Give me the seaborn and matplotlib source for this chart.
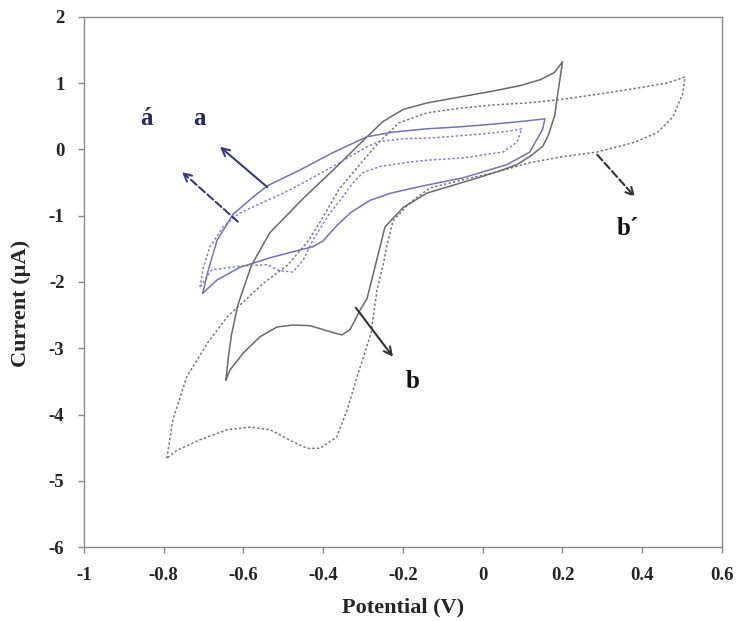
import numpy as np
import pandas as pd
import seaborn as sns
import matplotlib
matplotlib.use("Agg")
import matplotlib.pyplot as plt

# curve a (blue solid)
a_x = [-0.702, -0.69, -0.666, -0.626, -0.58, -0.54, -0.458, -0.376, -0.29, -0.225, -0.14, -0.057, 0.026, 0.111, 0.156,
       0.15, 0.118, 0.061, -0.05, -0.157, -0.23, -0.283, -0.33, -0.366, -0.40, -0.426, -0.46, -0.53, -0.609, -0.666, -0.702]
a_y = [-2.17, -1.86, -1.37, -0.98, -0.74, -0.55, -0.31, -0.05, 0.19, 0.26, 0.31, 0.34, 0.38, 0.43, 0.46,
       0.30, -0.04, -0.23, -0.43, -0.56, -0.66, -0.77, -0.95, -1.15, -1.38, -1.47, -1.52, -1.63, -1.78, -1.97, -2.17]

# curve á (blue dotted)
a2_x = [-0.709, -0.70, -0.684, -0.651, -0.609, -0.566, -0.50, -0.458, -0.376, -0.29, -0.258, -0.2, -0.132, -0.007, 0.06, 0.098,
        0.086, 0.051, -0.05, -0.132, -0.182, -0.258, -0.30, -0.325, -0.355, -0.383, -0.426, -0.45, -0.476, -0.51, -0.54,
        -0.609, -0.68, -0.709]
a2_y = [-2.08, -1.77, -1.47, -1.17, -0.96, -0.84, -0.66, -0.53, -0.26, 0.04, 0.12, 0.16, 0.17, 0.23, 0.27, 0.31,
        0.11, -0.04, -0.13, -0.16, -0.19, -0.26, -0.35, -0.5, -0.75, -0.96, -1.37, -1.67, -1.85, -1.83, -1.74,
        -1.76, -1.82, -2.08]

# curve b (black solid)
b_x = [-0.644, -0.637, -0.63, -0.614, -0.58, -0.534, -0.45, -0.366, -0.29, -0.25, -0.2, -0.14, -0.057, 0.026, 0.093,
       0.144, 0.18, 0.2,
       0.186, 0.181, 0.165, 0.151, 0.12, 0.086, 0.04, -0.007, -0.09, -0.14, -0.2, -0.245, -0.27, -0.29, -0.31, -0.318,
       -0.333, -0.353, -0.383, -0.433, -0.476, -0.516, -0.559, -0.60, -0.634, -0.644]
b_y = [-3.48, -3.1, -2.8, -2.35, -1.75, -1.26, -0.74, -0.26, 0.19, 0.42, 0.6, 0.70, 0.79, 0.88, 0.96,
       1.05, 1.16, 1.32,
       0.75, 0.52, 0.22, 0.05, -0.1, -0.23, -0.33, -0.42, -0.57, -0.66, -0.88, -1.17, -1.77, -2.25, -2.45, -2.55,
       -2.72, -2.80, -2.75, -2.66, -2.65, -2.68, -2.83, -3.07, -3.33, -3.48]

# curve b´ (black dotted)
b2_x = [-0.792, -0.777, -0.742, -0.69, -0.641, -0.60, -0.55, -0.49, -0.44, -0.408, -0.36, -0.325, -0.29, -0.258, -0.21,
        -0.14, -0.057, 0.026, 0.111, 0.194, 0.31, 0.394, 0.462, 0.507,
        0.502, 0.477, 0.437, 0.377, 0.287, 0.201, 0.118, 0.036, -0.05, -0.132, -0.182, -0.225, -0.24, -0.25, -0.265,
        -0.28, -0.315, -0.34, -0.366, -0.408, -0.44, -0.483, -0.533, -0.584, -0.641, -0.709, -0.767, -0.792]
b2_y = [-4.66, -4.08, -3.43, -2.92, -2.53, -2.3, -2.02, -1.75, -1.4, -1.1, -0.6, -0.35, -0.1, 0.12, 0.4,
        0.55, 0.62, 0.67, 0.70, 0.75, 0.85, 0.93, 1.0, 1.09,
        0.85, 0.49, 0.25, 0.10, -0.04, -0.11, -0.20, -0.34, -0.46, -0.58, -0.8, -1.08, -1.45, -1.75, -2.12,
        -2.77, -3.43, -3.93, -4.34, -4.51, -4.51, -4.39, -4.23, -4.19, -4.23, -4.38, -4.54, -4.66]

x_ticks = [-1, -0.8, -0.6, -0.4, -0.2, 0, 0.2, 0.4, 0.6]
x_tick_labels = ["-1", "-0.8", "-0.6", "-0.4", "-0.2", "0", "0.2", "0.4", "0.6"]
y_ticks = [-6, -5, -4, -3, -2, -1, 0, 1, 2]
y_tick_labels = ["-6", "-5", "-4", "-3", "-2", "-1", "0", "1", "2"]

# annotations: label, text position, arrow tail, arrow head
labels = ["á", "a", "b", "b´"]
label_pos = [(-0.842, 0.47), (-0.709, 0.47), (-0.177, -3.5), (0.364, -1.2)]
arrow_tail = [(-0.614, -1.09), (-0.54, -0.57), (-0.318, -2.39), (0.287, -0.08)]
arrow_head = [(-0.754, -0.34), (-0.659, 0.04), (-0.225, -3.13), (0.382, -0.72)]

sns.set_theme(style="white")
plt.rcParams["font.family"] = ["Liberation Serif", "DejaVu Serif"]
plt.rcParams["axes.unicode_minus"] = False

fig = plt.figure(figsize=(7.36, 6.21), dpi=100)
ax = fig.add_axes([0.114, 0.119, 0.867, 0.854])

blue = "#7373b6"
gray = "#6a6a6a"
dots = (0, (1.6, 1.4))

sns.lineplot(x=b2_x, y=b2_y, sort=False, estimator=None, color="#7a7a7a", lw=1.1, linestyle=dots, ax=ax)
sns.lineplot(x=b_x, y=b_y, sort=False, estimator=None, color=gray, lw=1.1, ax=ax)
sns.lineplot(x=a2_x, y=a2_y, sort=False, estimator=None, color="#8585c4", lw=1.1, linestyle=dots, ax=ax)
sns.lineplot(x=a_x, y=a_y, sort=False, estimator=None, color=blue, lw=1.1, ax=ax)

navy = "#26266e"
label_colors = [navy, navy, "#111111", "#111111"]
arrow_colors = ["#3a3a80", "#3a3a80", "#333333", "#333333"]
arrow_styles = ["--", "-", "-", "--"]
for lab, pos, tail, head, lc, ac, ls in zip(labels, label_pos, arrow_tail, arrow_head,
                                            label_colors, arrow_colors, arrow_styles):
    ax.annotate("", xy=head, xytext=tail,
                arrowprops=dict(arrowstyle="->", color=ac, lw=1.5, linestyle=ls,
                                shrinkA=0, shrinkB=0, mutation_scale=14))
    ax.text(pos[0], pos[1], lab, color=lc, fontsize=18, fontweight="bold",
            ha="center", va="center")

ax.set_xlim(-1, 0.6)
ax.set_ylim(-6, 2)
ax.set_xticks(x_ticks)
ax.set_xticklabels(x_tick_labels, fontsize=13.5, fontweight="bold")
ax.set_yticks(y_ticks)
ax.set_yticklabels(y_tick_labels, fontsize=13.5, fontweight="bold")
ax.tick_params(axis="both", which="major", bottom=True, left=True, direction="out",
               length=4, width=1, color="#888888", pad=10)
for s in ax.spines.values():
    s.set_color("#8a8a8a")
    s.set_linewidth(1.0)
ax.set_xlabel("Potential (V)", fontsize=16, fontweight="bold", labelpad=10)
ax.set_ylabel("Current (µA)", fontsize=16, fontweight="bold")
ax.yaxis.set_label_coords(-0.083, 0.46)

fig.savefig("out.png", dpi=100)
